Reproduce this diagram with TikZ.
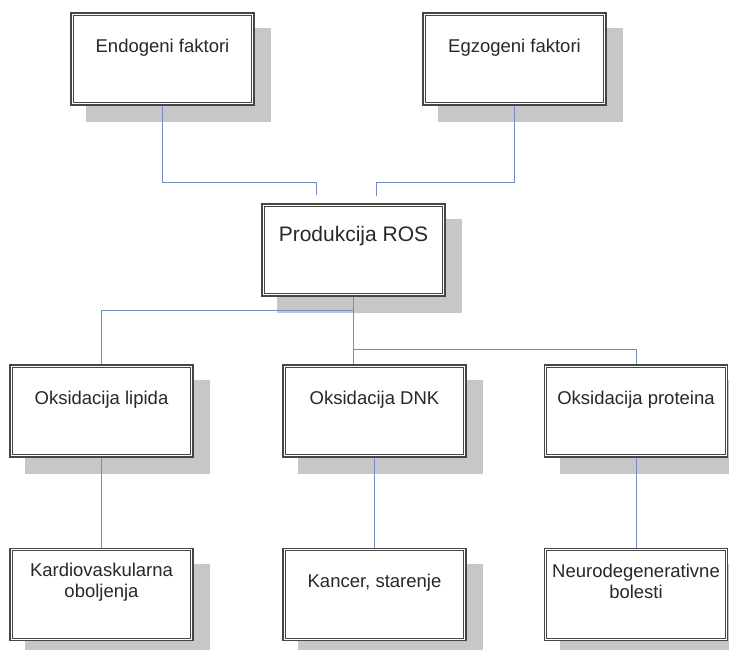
\documentclass[tikz,border=0pt]{standalone}
\usepackage{fontspec}
\setmainfont{Liberation Sans}
\usetikzlibrary{backgrounds}
\definecolor{linkblue}{RGB}{112,142,196}
\definecolor{txtgray}{RGB}{40,40,40}
\definecolor{edgegray}{RGB}{70,70,70}
\tikzset{
  factorbox/.style={draw=edgegray, line width=1.5pt, fill=white,
    minimum width=183pt, minimum height=92pt, inner sep=0pt},
  innerline/.style={draw=edgegray, line width=0.8pt},
  boxshadow/.style={fill=black!22},
  boxtext/.style={text=txtgray, align=center, font=\fontsize{18.5}{21}\selectfont},
  link/.style={linkblue, line width=0.9pt}
}
\begin{document}
\begin{tikzpicture}[x=1pt, y=-1pt]
\useasboundingbox (0,0) rectangle (729,649);
\node[factorbox] (endo) at (162.5,59) {};\node[factorbox] (egzo) at (514.5,59) {};
\node[factorbox] (ros) at (353.5,250) {};
\node[factorbox] (lipid) at (101.5,411) {};\node[factorbox] (dnk) at (374.5,411) {};\node[factorbox] (protein) at (636,411) {};
\node[factorbox] (kardio) at (101.5,594.5) {};\node[factorbox] (kancer) at (374.5,594.5) {};\node[factorbox] (neuro) at (636,594.5) {};
\foreach \b in {endo,egzo,ros,lipid,dnk,protein,kardio,kancer,neuro}
  \draw[innerline] ([shift={(3pt,-3pt)}]\b.north west) rectangle ([shift={(-3pt,3pt)}]\b.south east);
\begin{scope}[on background layer]
  \foreach \b in {endo,egzo,ros,lipid,dnk,protein,kardio,kancer,neuro}
    \fill[boxshadow] ([shift={(16pt,-16pt)}]\b.south west) rectangle ([shift={(16pt,-16pt)}]\b.north east);
\end{scope}
\begin{scope}[boxtext]
  \node (endo-t) at ([yshift=-35pt]endo.north) {Endogeni faktori};
  \node (egzo-t) at ([yshift=-35pt]egzo.north) {Egzogeni faktori};
  \node[font=\fontsize{21}{24}\selectfont] (ros-t) at ([yshift=-33pt]ros.north) {Produkcija ROS};
  \node (lipid-t) at ([yshift=-35pt]lipid.north) {Oksidacija lipida};
  \node (dnk-t) at ([yshift=-35pt]dnk.north) {Oksidacija DNK};
  \node (protein-t) at ([yshift=-35pt]protein.north) {Oksidacija proteina};
  \node (kardio-t) at ([yshift=-34pt]kardio.north) {Kardiovaskularna\\oboljenja};
  \node (kancer-t) at ([yshift=-35pt]kancer.north) {Kancer, starenje};
  \node (neuro-t) at ([yshift=-34pt]neuro.north) {Neurodegenerativne\\bolesti};
\end{scope}
\coordinate (endo-in) at (316,195);\coordinate (egzo-in) at (376,196);
\draw[link] (endo.south) -- ++(0,77) -| (endo-in);\draw[link] (egzo.south) -- ++(0,77) -| (egzo-in);
\draw[link] (ros.south) -- (ros.south |- dnk.north);
\draw[link] (ros.south) ++(0,14) -| (lipid.north);\draw[link] (ros.south) ++(0,53) -| (protein.north);
\draw[link] (lipid.south) -- (kardio.north);\draw[link] (dnk.south) -- (kancer.north);\draw[link] (protein.south) -- (neuro.north);
\end{tikzpicture}
\end{document}
